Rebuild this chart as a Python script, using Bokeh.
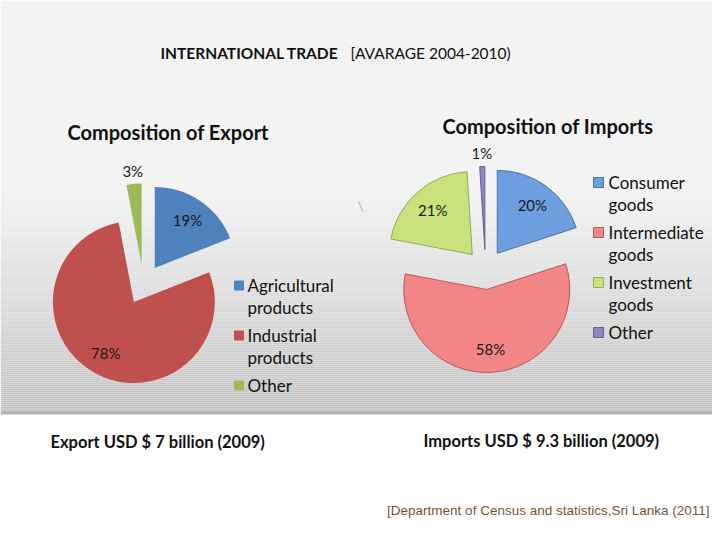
import numpy as np
from bokeh.plotting import figure
from bokeh.models import Range1d
from bokeh.core.properties import value
from bokeh.embed import file_html
from bokeh.resources import INLINE

# ---------------- data ----------------
export_categories = ["Agricultural\nproducts", "Industrial\nproducts", "Other"]
export_values = [19, 78, 3]
export_colors = ["#4f81bd", "#c0504d", "#9bbb59"]

import_categories = ["Consumer\ngoods", "Intermediate\ngoods", "Investment\ngoods", "Other"]
import_values = [20, 58, 21, 1]
import_fill = ["#6d9fe0", "#f28585", "#c9e27c", "#9484c6"]
import_line = ["#4a74aa", "#b85a5a", "#93ad52", "#6a5a9a"]

main_title_bold = "INTERNATIONAL TRADE"
main_title_rest = "[AVARAGE 2004-2010)"
export_title = "Composition of Export"
import_title = "Composition of Imports"
export_total = "Export USD $ 7 billion (2009)"
import_total = "Imports USD $ 9.3 billion (2009)"
source_note = "[Department of Census and statistics,Sri Lanka (2011]"

FONT = "Lato"

# ---------------- figure ----------------
W, H = 712, 530
p = figure(width=W, height=H, x_range=Range1d(0, 712), y_range=Range1d(16, 546),
           output_backend="svg", toolbar_location=None, min_border=0)
p.axis.visible = False
p.grid.visible = False
p.outline_line_color = None
p.background_fill_color = "white"
p.border_fill_color = "white"


def Y(ry):
    return 546 - ry


# background gradient (slide look)
band_tops = np.arange(0, 412, 2)
cols = []
for t in band_tops:
    if t < 190:
        g = 0xf2
    else:
        f = (t - 190) / (411 - 190)
        g = int(round(0xf2 + (0xc2 - 0xf2) * f))
    cols.append("#%02x%02x%02x" % (g, g, g))
p.quad(left=0, right=728, top=[Y(t) for t in band_tops], bottom=[Y(t + 2) for t in band_tops],
       fill_color=cols, line_color=None)
p.quad(left=0, right=728, top=Y(411), bottom=Y(414), fill_color="#b2b2b2", line_color=None)


def draw_pie(cx, cy, r, explode, vals, fills, lines, lw, label_size):
    v = np.array(vals, dtype=float)
    frac = v / v.sum()
    cum = np.concatenate([[0.0], np.cumsum(frac)])
    start = np.pi / 2 - cum[1:] * 2 * np.pi
    end = np.pi / 2 - cum[:-1] * 2 * np.pi
    mid = (start + end) / 2
    xs = cx + explode * np.cos(mid)
    ys = Y(cy) + explode * np.sin(mid)
    p.wedge(x=xs, y=ys, radius=r, start_angle=start, end_angle=end, direction="anticlock",
            fill_color=fills, line_color=lines, line_width=lw)
    rr = np.where(frac < 0.05, 1.16 * r, 0.72 * r)
    lx = xs + rr * np.cos(mid)
    ly = ys + rr * np.sin(mid)
    texts = ["%d%%" % round(f * 100) for f in frac]
    p.text(x=lx, y=ly, text=texts, text_align="center", text_baseline="middle",
           text_font=value(FONT), text_font_size=label_size, text_color="#1a1a1a")


def draw_legend(x_mark, x_text, y_first, cats, fills, lines, msize):
    tx, ty, tt, my = [], [], [], []
    y = y_first
    for c in cats:
        parts = c.split("\n")
        my.append(Y(y))
        for k, t in enumerate(parts):
            tt.append(t)
            ty.append(Y(y + 22 * k))
            tx.append(x_text)
        y += 22 * len(parts) + 6
    p.rect(x=x_mark, y=my, width=msize, height=msize, fill_color=fills, line_color=lines, line_width=1)
    p.text(x=tx, y=ty, text=tt, text_align="left", text_baseline="middle",
           text_font=value(FONT), text_font_size="17px", text_color="#111111")


# export pie
draw_pie(143, 284, 81, 20, export_values, export_colors, export_colors, 0, "15px")
draw_legend(238.5, 247, 285, export_categories, export_colors, export_colors, 9)

# import pie
draw_pie(485, 269, 83, 20, import_values, import_fill, import_line, 1, "15px")
draw_legend(598, 608, 182, import_categories, import_fill, import_line, 10)

# texts
def txt(x, y, s, size, bold=False, color="#111111", font=FONT, align="left"):
    p.text(x=[x], y=[Y(y)], text=[s], text_align=align, text_baseline="middle",
           text_font=value(font), text_font_size=size,
           text_font_style="bold" if bold else "normal", text_color=color)

txt(160, 52, main_title_bold, "15.5px", bold=True)
txt(350, 52, main_title_rest, "15.5px")
txt(67, 131, export_title, "20px", bold=True)
txt(442, 125, import_title, "20px", bold=True)
txt(50, 441, export_total, "16.5px", bold=True)
txt(423, 440, import_total, "16.5px", bold=True)
txt(709, 510, source_note, "13.5px", color="#7a5434", font="Liberation Sans", align="right")
txt(357, 205, "\\", "13px", color="#aaaaaa")

open("out.html", "w").write(file_html(p, INLINE))
